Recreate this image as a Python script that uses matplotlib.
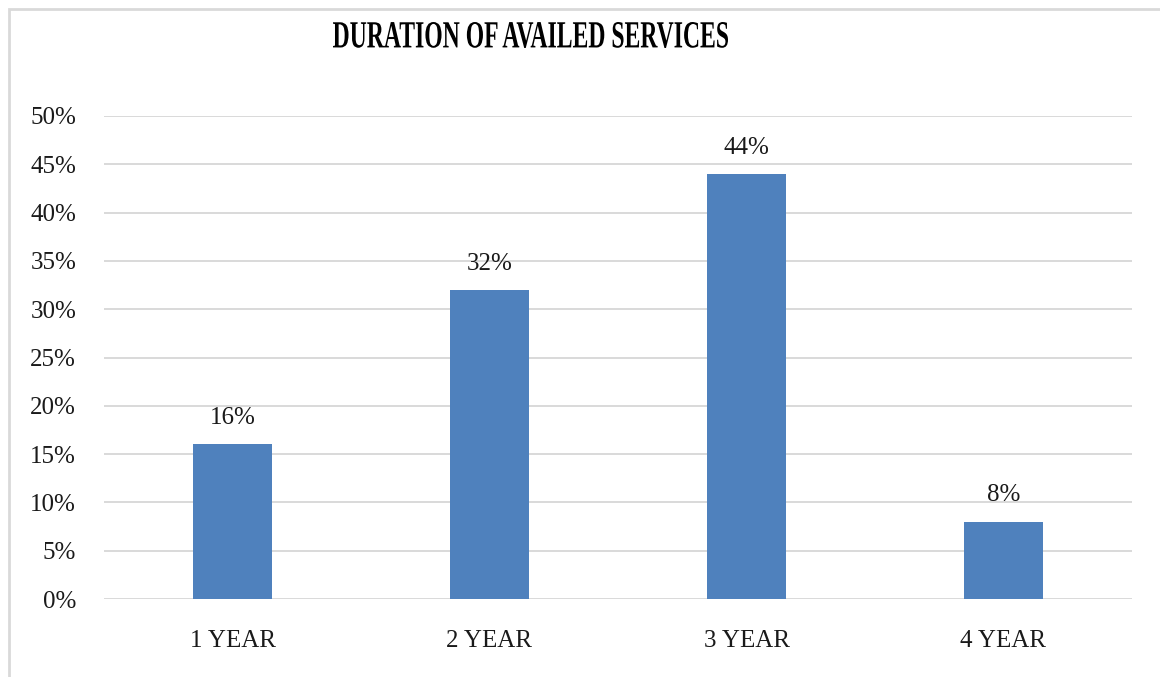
import numpy as np
import matplotlib
matplotlib.use("Agg")
import matplotlib.pyplot as plt
from matplotlib.textpath import TextPath
from matplotlib.patches import PathPatch, Rectangle
from matplotlib.font_manager import FontProperties
from matplotlib.transforms import Affine2D
from matplotlib.ticker import PercentFormatter

categories = ["1 YEAR", "2 YEAR", "3 YEAR", "4 YEAR"]
shares = [0.16, 0.32, 0.44, 0.08]
yticks = [0, 0.05, 0.10, 0.15, 0.20, 0.25, 0.30, 0.35, 0.40, 0.45, 0.50]
title = "DURATION OF AVAILED SERVICES"

plt.rcParams["font.family"] = ["Liberation Serif", "DejaVu Serif"]

W, H = 1160, 677
fig = plt.figure(figsize=(W / 100, H / 100), dpi=100)
ax = fig.add_axes([104 / W, 78 / H, (1132 - 104) / W, (561 - 78) / H])

x = np.arange(len(categories))
bars = ax.bar(x, shares, width=0.31, color="#4f81bd", zorder=3)

for b, v in zip(bars, shares):
    ax.annotate(f"{v:.0%}", (b.get_x() + b.get_width() / 2, v),
                xytext=(0, 11), textcoords="offset points",
                ha="center", va="bottom", fontsize=18, color="#1a1a1a")

ax.set_xlim(-0.5, len(categories) - 0.5)
ax.set_ylim(0, 0.5)
ax.set_yticks(yticks)
ax.yaxis.set_major_formatter(PercentFormatter(1.0, decimals=0))
ax.set_xticks(x)
ax.set_xticklabels(categories)
ax.tick_params(axis="both", length=0, labelsize=18, colors="#1a1a1a")
ax.tick_params(axis="y", pad=20)
ax.tick_params(axis="x", pad=22)
ax.grid(axis="y", color="#d9d9d9", linewidth=1.4, zorder=0)
for s in ax.spines.values():
    s.set_visible(False)

# condensed bold title: draw the glyph outlines and squeeze them horizontally
tp = TextPath((0, 0), title, size=10,
              prop=FontProperties(family="Liberation Serif", weight="bold"))
ext = tp.get_extents()
sx = 3.95 / ext.width
sy = 0.26 / ext.height
tr = Affine2D().translate(-ext.x0, -ext.y0).scale(sx, sy).translate(3.33, (H - 48) / 100)
fig.patches.append(PathPatch(tp, transform=tr + fig.dpi_scale_trans,
                             facecolor="black", edgecolor="none"))

# chart-area frame
fig.patches.append(Rectangle((8.5 / W, -0.1), 2, (H - 8.5) / H + 0.1,
                             transform=fig.transFigure, facecolor="none",
                             edgecolor="#d9d9d9", linewidth=2))

fig.savefig("out.png", dpi=100, facecolor="white")
